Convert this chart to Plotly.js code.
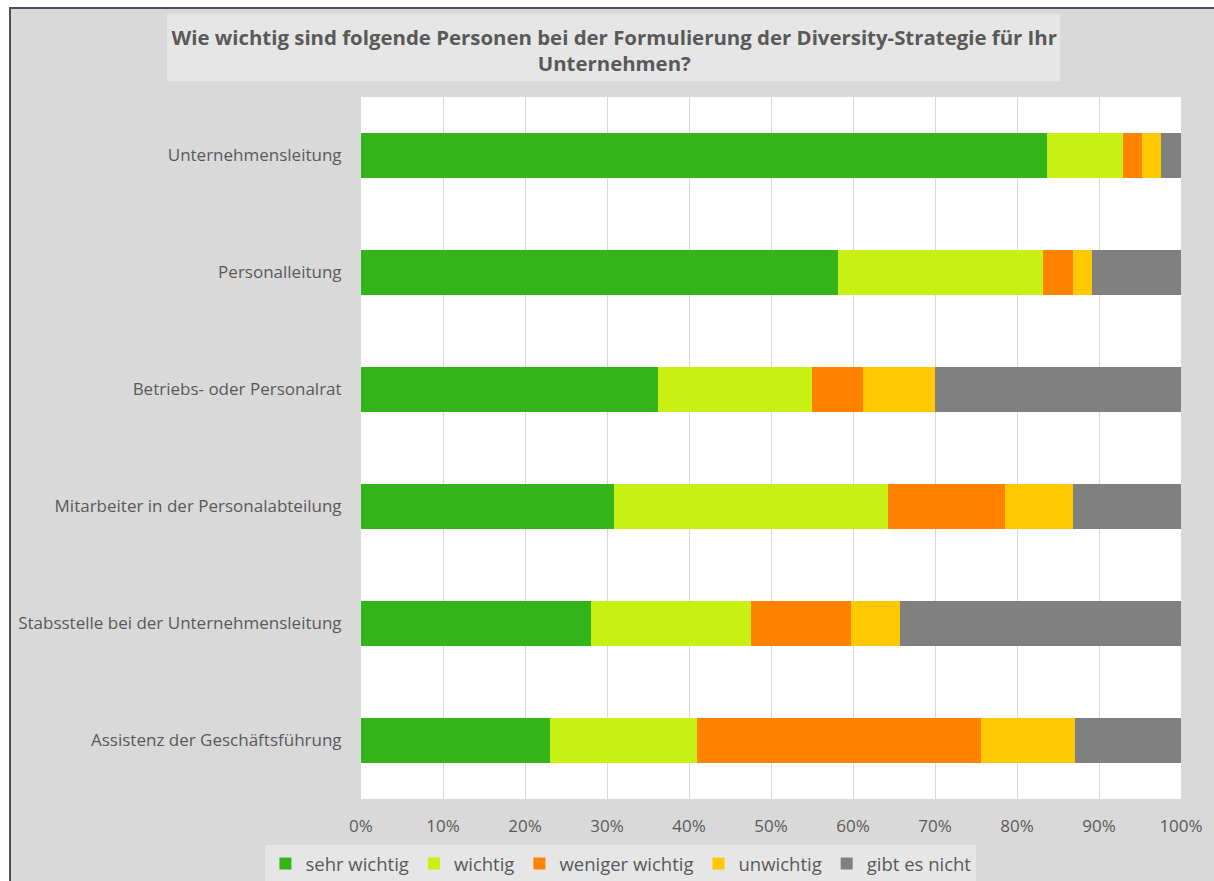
<!DOCTYPE html>
<html>
<head>
<meta charset="utf-8">
<script src="https://cdn.plot.ly/plotly-3.0.1.min.js"></script>
<style>
html,body{margin:0;padding:0;background:#ffffff;overflow:hidden;}
#wrap{position:relative;width:1214px;height:881px;overflow:hidden;}
#chart{width:1214px;height:881px;}
#padL{position:absolute;left:0;top:0;width:9px;height:881px;background:#ffffff;}
#padT{position:absolute;left:0;top:0;width:1214px;height:7px;background:#ffffff;}
#frame{position:absolute;left:9px;top:7px;width:1300px;height:900px;border-left:2px solid #4a505a;border-top:2px solid #4a505a;pointer-events:none;}
</style>
</head>
<body>
<div id="wrap"><div id="chart"></div><div id="padL"></div><div id="padT"></div><div id="frame"></div></div>
<script>
const categories = [
  "Unternehmensleitung",
  "Personalleitung",
  "Betriebs- oder Personalrat",
  "Mitarbeiter in der Personalabteilung",
  "Stabsstelle bei der Unternehmensleitung",
  "Assistenz der Geschäftsführung"
];
const seriesNames = ["sehr wichtig", "wichtig", "weniger wichtig", "unwichtig", "gibt es nicht"];
const sehrWichtig   = [83.7, 58.2, 36.2, 30.9, 28.0, 23.0];
const wichtig       = [9.2, 25.0, 18.8, 33.4, 19.5, 18.0];
const wenigerWichtig= [2.4, 3.6, 6.2, 14.2, 12.3, 34.6];
const unwichtig     = [2.3, 2.3, 8.8, 8.3, 5.9, 11.5];
const gibtEsNicht   = [2.4, 10.9, 30.0, 13.2, 34.3, 12.9];
const tickVals = [0, 10, 20, 30, 40, 50, 60, 70, 80, 90, 100];
const tickLabels = ["0%", "10%", "20%", "30%", "40%", "50%", "60%", "70%", "80%", "90%", "100%"];
const colors = ["#33b419", "#c8f015", "#ff8300", "#ffc800", "#808080"];
const values = [sehrWichtig, wichtig, wenigerWichtig, unwichtig, gibtEsNicht];

const font = "'Open Sans', 'Noto Sans', sans-serif";
const traces = values.map((v, i) => ({
  type: "bar",
  orientation: "h",
  name: seriesNames[i],
  x: v,
  y: categories,
  marker: {color: colors[i], line: {width: 0}},
  hoverinfo: "name+x"
}));

const layout = {
  width: 1214, height: 881,
  paper_bgcolor: "#d9d9d9",
  plot_bgcolor: "#ffffff",
  barmode: "stack",
  bargap: 0.607,
  margin: {l: 361, r: 33, t: 97, b: 82, pad: 0, autoexpand: false},
  font: {family: font, size: 17, color: "#595959"},
  title: {
    text: "<b>Wie wichtig sind folgende Personen bei der Formulierung der Diversity-Strategie für Ihr<br>Unternehmen?</b>",
    font: {family: font, size: 20.4, color: "#595959"},
    x: 0.506, xanchor: "center",
    y: 0.949, yanchor: "middle", yref: "container"
  },
  xaxis: {
    range: [0, 100],
    tickvals: tickVals, ticktext: tickLabels,
    showgrid: true, gridcolor: "#d9d9d9", gridwidth: 1,
    zeroline: false, showline: false,
    ticks: "outside", ticklen: 12, tickcolor: "rgba(0,0,0,0)",
    tickfont: {family: font, size: 17, color: "#595959"},
    fixedrange: true
  },
  yaxis: {
    autorange: "reversed",
    showgrid: false, zeroline: false, showline: false,
    ticks: "outside", ticklen: 15, tickcolor: "rgba(0,0,0,0)",
    tickfont: {family: font, size: 17, color: "#595959"},
    fixedrange: true
  },
  legend: {
    orientation: "h",
    x: 0.317, xanchor: "center",
    y: -0.0655, yanchor: "top",
    bgcolor: "#e6e6e6",
    font: {family: font, size: 18.5, color: "#595959"},
    traceorder: "normal",
    itemwidth: 30
  },
  shapes: [{
    type: "rect", xref: "paper", yref: "paper", layer: "below",
    x0: -0.2366, x1: 0.8524, y0: 1.0228, y1: 1.1182,
    fillcolor: "#e6e6e6", line: {width: 0}
  }],
  showlegend: true
};

Plotly.newPlot("chart", traces, layout, {displayModeBar: false, staticPlot: true});
</script>
</body>
</html>
